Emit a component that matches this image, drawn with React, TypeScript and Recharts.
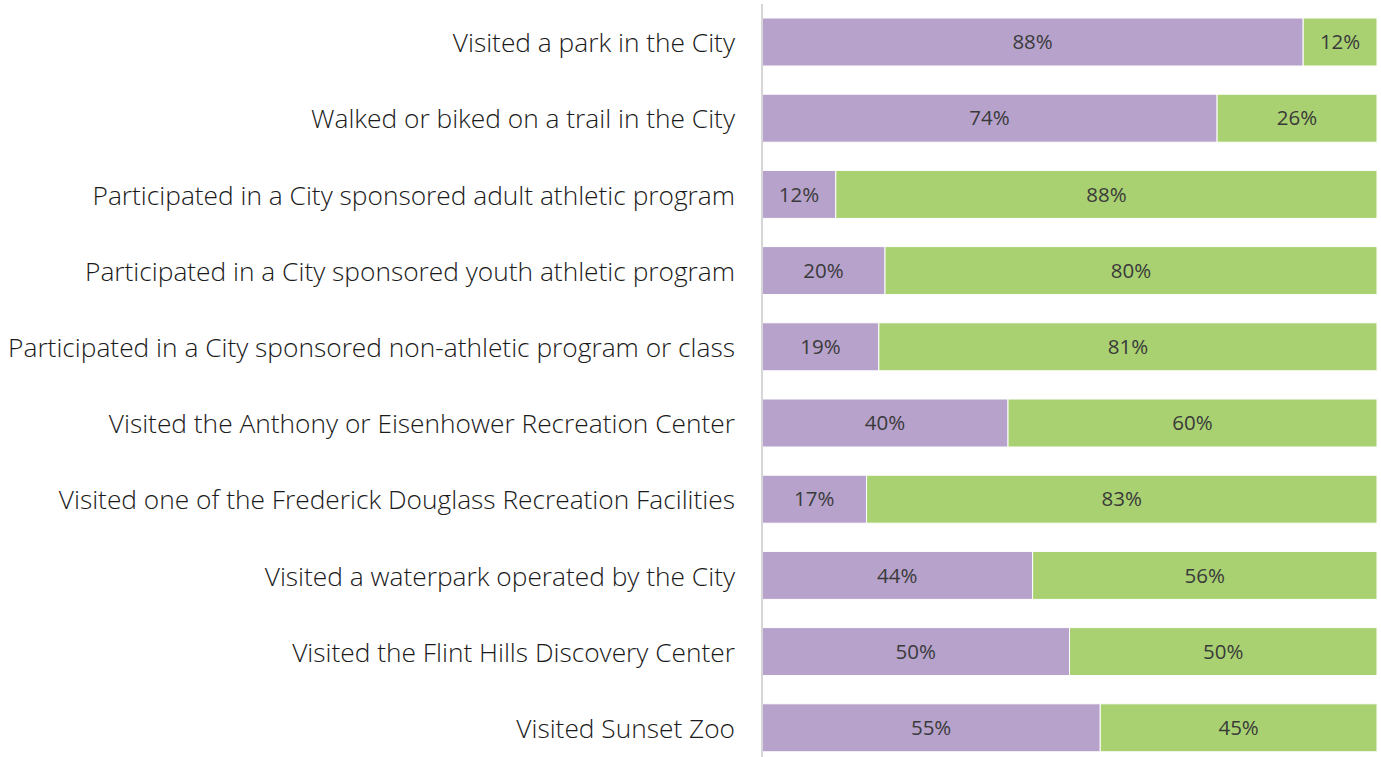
import React from 'react';
import { BarChart, Bar, XAxis, YAxis, LabelList } from 'recharts';

const categories = [
  'Visited a park in the City',
  'Walked or biked on a trail in the City',
  'Participated in a City sponsored adult athletic program',
  'Participated in a City sponsored youth athletic program',
  'Participated in a City sponsored non-athletic program or class',
  'Visited the Anthony or Eisenhower Recreation Center',
  'Visited one of the Frederick Douglass Recreation Facilities',
  'Visited a waterpark operated by the City',
  'Visited the Flint Hills Discovery Center',
  'Visited Sunset Zoo',
];
const yesValues = [88, 74, 12, 20, 19, 40, 17, 44, 50, 55];
const noValues = [12, 26, 88, 80, 81, 60, 83, 56, 50, 45];

const data = categories.map((name, i) => ({ name, yes: yesValues[i], no: noValues[i] }));

const FONT = '"Open Sans", "Liberation Sans", sans-serif';

const CategoryTick = ({ x, y, payload }: any) => (
  <text
    x={x - 19}
    y={y}
    textAnchor="end"
    dominantBaseline="central"
    fontFamily={FONT}
    fontSize={26.3}
    fontWeight={300}
    fill="#1a1a1a"
  >
    {payload.value}
  </text>
);

const pct = (v: any) => `${v}%`;

export default function App() {
  return (
    <div style={{ position: 'absolute', left: 0, top: 0, background: '#fff' }}>
      <BarChart
        width={1381}
        height={766}
        data={data}
        layout="vertical"
        margin={{ top: 4, right: 4, bottom: 0, left: 0 }}
      >
        <XAxis type="number" domain={[0, 100]} hide />
        <YAxis
          type="category"
          dataKey="name"
          width={762}
          axisLine={{ stroke: '#d6d6d6', strokeWidth: 2 }}
          tickLine={false}
          tick={<CategoryTick />}
          interval={0}
        />
        <Bar dataKey="yes" stackId="a" barSize={48} fill="#b7a2cc" stroke="#fff" strokeWidth={1} isAnimationActive={false}>
          <LabelList dataKey="yes" position="center" formatter={pct} fill="#3a3a3a" fontSize={20.5} fontFamily={FONT} />
        </Bar>
        <Bar dataKey="no" stackId="a" barSize={48} fill="#a9d172" stroke="#fff" strokeWidth={1} isAnimationActive={false}>
          <LabelList dataKey="no" position="center" formatter={pct} fill="#3a3a3a" fontSize={20.5} fontFamily={FONT} />
        </Bar>
      </BarChart>
    </div>
  );
}
